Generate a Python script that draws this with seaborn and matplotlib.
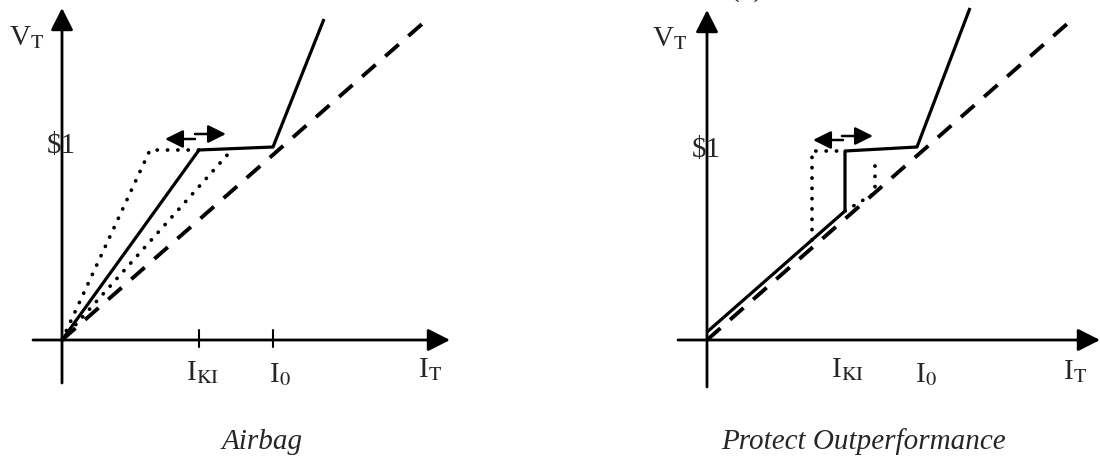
import numpy as np
import pandas as pd
import matplotlib
matplotlib.use('Agg')
import matplotlib.pyplot as plt
import seaborn as sns

# diagram values (1 unit = 100 px of the original picture)
# panel 1 : Airbag
ab_solid_x = [0, 1.37, 2.11, 2.62]
ab_solid_y = [0, 1.90, 1.93, 3.21]
ab_dash_x = [0, 3.68]
ab_dash_y = [0, 3.23]
ab_dot_hi_x = [0, 0.88, 1.37]
ab_dot_hi_y = [0, 1.90, 1.90]
ab_dot_lo_x = [0, 1.67]
ab_dot_lo_y = [0, 1.87]
ab_ticks = [1.37, 2.11]

# panel 2 : Protect Outperformance
po_solid_x = [0, 1.38, 1.38, 2.10, 2.63]
po_solid_y = [0.08, 1.29, 1.89, 1.93, 3.32]
po_dash_x = [0, 3.68]
po_dash_y = [0, 3.23]
po_dot_l_x = [1.05, 1.05, 1.38]
po_dot_l_y = [1.00, 1.89, 1.89]
po_dot_r_x = [1.38, 1.68, 1.68]
po_dot_r_y = [1.29, 1.47, 1.83]

titles = ['Airbag', 'Protect Outperformance']

sns.set_theme(style='white')
plt.rcParams['font.family'] = ['Liberation Serif', 'DejaVu Serif']
plt.rcParams['mathtext.fontset'] = 'stix'

fig = plt.figure(figsize=(11, 4.62), dpi=100)
ax1 = fig.add_axes([0, 0, 0.5, 1])
ax2 = fig.add_axes([0.5, 0, 0.5, 1])

dash = (0, (4.6, 3.3))
dot = (0, (0.05, 2.7))


def line(ax, x, y, style, lw=2.3):
    sns.lineplot(x=x, y=y, sort=False, estimator=None, color='black', lw=lw,
                 linestyle=style, ax=ax)
    ln = ax.lines[-1]
    ln.set_dash_capstyle('round' if style == dot else 'butt')
    ln.set_solid_capstyle('butt')


def arrow(ax, start, end, lw=1.8, hl=0.6, hw=0.3):
    ax.annotate('', xy=end, xytext=start,
                arrowprops=dict(arrowstyle='-|>,head_length=%s,head_width=%s' % (hl, hw),
                                lw=lw, color='black', shrinkA=0, shrinkB=0,
                                mutation_scale=18))


def axes_frame(ax, xleft, xright, ybot, ytop):
    arrow(ax, (xleft, 0), (xright, 0), lw=2, hl=0.75, hw=0.38)
    arrow(ax, (0, ybot), (0, ytop), lw=2, hl=0.75, hw=0.38)


# ---- Airbag
line(ax1, ab_dash_x, ab_dash_y, dash, lw=2.8)
line(ax1, ab_dot_hi_x, ab_dot_hi_y, dot, lw=2.7)
line(ax1, ab_dot_lo_x, ab_dot_lo_y, dot, lw=2.7)
line(ax1, ab_solid_x, ab_solid_y, '-')
axes_frame(ax1, -0.29, 3.88, -0.43, 3.32)
for t in ab_ticks:
    ax1.plot([t, t], [-0.07, 0.10], color='black', lw=1.5)
arrow(ax1, (1.33, 2.01), (1.03, 2.01))
arrow(ax1, (1.33, 2.06), (1.64, 2.06))
ax1.text(-0.35, 3.02, r'V$_{\mathrm{T}}$', fontsize=21, ha='center', va='center')
ax1.text(-0.01, 1.94, '$1', fontsize=21, ha='center', va='center')
ax1.text(1.41, -0.33, r'I$_{\mathrm{KI}}$', fontsize=21, ha='center', va='center')
ax1.text(2.18, -0.35, r'I$_{0}$', fontsize=21, ha='center', va='center')
ax1.text(3.68, -0.30, r'I$_{\mathrm{T}}$', fontsize=21, ha='center', va='center')
ax1.text(2.00, -1.02, titles[0], fontsize=21, style='italic', ha='center', va='center')
ax1.set_xlim(-0.62, 4.88)
ax1.set_ylim(-1.22, 3.40)

# ---- Protect Outperformance
line(ax2, po_dash_x, po_dash_y, dash, lw=2.8)
line(ax2, po_dot_l_x, po_dot_l_y, dot, lw=2.7)
line(ax2, po_dot_r_x, po_dot_r_y, dot, lw=2.7)
line(ax2, po_solid_x, po_solid_y, '-')
axes_frame(ax2, -0.29, 3.93, -0.47, 3.30)
arrow(ax2, (1.36, 2.00), (1.06, 2.00))
arrow(ax2, (1.35, 2.04), (1.66, 2.04))
ax2.text(-0.37, 3.01, r'V$_{\mathrm{T}}$', fontsize=21, ha='center', va='center')
ax2.text(-0.01, 1.90, '$1', fontsize=21, ha='center', va='center')
ax2.text(1.41, -0.30, r'I$_{\mathrm{KI}}$', fontsize=21, ha='center', va='center')
ax2.text(2.19, -0.35, r'I$_{0}$', fontsize=21, ha='center', va='center')
ax2.text(3.68, -0.32, r'I$_{\mathrm{T}}$', fontsize=21, ha='center', va='center')
ax2.text(1.56, -1.02, titles[1], fontsize=21, style='italic', ha='center', va='center')
ax2.text(0.40, 3.44, '(b)', fontsize=21, ha='center', va='baseline')
ax2.set_xlim(-1.57, 3.93)
ax2.set_ylim(-1.22, 3.40)

for ax in (ax1, ax2):
    ax.axis('off')

fig.savefig('out.png', dpi=100)
